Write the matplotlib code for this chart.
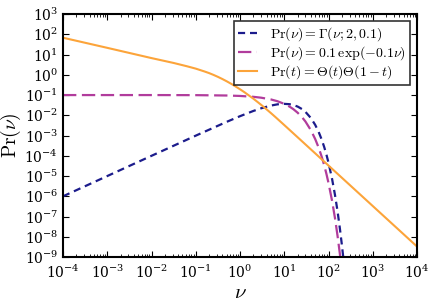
import numpy as np
import matplotlib
matplotlib.use('Agg')
import matplotlib.pyplot as plt

# values (log-log axes)
nu_gamma = [1e-4, 1e-3, 1e-2, 0.1, 0.5, 1, 2, 3, 5, 7, 10, 13, 16, 20, 25, 30, 40, 50,
            60, 70, 80, 90, 100, 120, 140, 160, 180, 200, 215]
pr_gamma = [1e-6, 1e-5, 1e-4, 9.9e-4, 4.76e-3, 9.05e-3, 1.64e-2, 2.22e-2, 3.03e-2, 3.48e-2,
            3.68e-2, 3.55e-2, 3.23e-2, 2.71e-2, 2.05e-2, 1.49e-2, 7.3e-3, 3.37e-3,
            1.49e-3, 6.4e-4, 2.68e-4, 1.11e-4, 4.5e-5, 7.4e-6, 1.16e-6, 1.8e-7, 2.7e-8,
            4.1e-9, 9.9e-10]

nu_exp = [1e-4, 1e-2, 0.1, 0.5, 1, 2, 3, 5, 7, 10, 13, 16, 20, 25, 30, 40, 50, 60, 70,
          80, 90, 100, 120, 140, 160, 180, 190]
pr_exp = [0.1, 0.1, 0.099, 0.0951, 0.0905, 0.0819, 0.0741, 0.0607, 0.0497, 0.0368,
          0.0273, 0.0202, 0.0135, 8.2e-3, 4.98e-3, 1.83e-3, 6.7e-4, 2.5e-4, 9.1e-5,
          3.4e-5, 1.23e-5, 4.5e-6, 6.1e-7, 8.3e-8, 1.1e-8, 1.5e-9, 5.6e-10]

nu_unif = [1e-4, 1e-3, 1e-2, 0.0316, 0.063, 0.1, 0.158, 0.2, 0.251, 0.316, 0.398, 0.501,
           0.631, 0.794, 1.0, 1.26, 1.58, 2.0, 2.51, 3.16, 3.98, 5.01, 6.31, 10, 21, 100,
           1000, 1e4]
pr_unif = [68, 21.5, 6.7, 3.85, 2.65, 2.02, 1.46, 1.216, 0.993, 0.794, 0.622, 0.478,
           0.36, 0.266, 0.193, 0.138, 0.0964, 0.0664, 0.045, 0.030, 0.0197, 0.0128,
           0.0082, 0.0033, 7.5e-4, 3.3e-5, 3.3e-7, 3.3e-9]

plt.rcParams['mathtext.fontset'] = 'cm'
plt.rcParams['font.family'] = 'serif'
plt.rcParams['font.serif'] = ['DejaVu Serif']
plt.rcParams['xtick.direction'] = 'in'
plt.rcParams['ytick.direction'] = 'in'
plt.rcParams['xtick.top'] = True
plt.rcParams['ytick.right'] = True
plt.rcParams['xtick.major.size'] = 4
plt.rcParams['ytick.major.size'] = 4
plt.rcParams['xtick.minor.size'] = 2
plt.rcParams['ytick.minor.size'] = 2
plt.rcParams['axes.linewidth'] = 1.5

fig = plt.figure(figsize=(4.36, 3.06), dpi=100)
ax = fig.add_axes([0.1445, 0.160, 0.812, 0.794])

ax.plot(nu_gamma, pr_gamma, color='#1c1c8c', lw=1.6, dashes=(3.2, 2.2),
        label=r'$\mathrm{Pr}(\nu) = \Gamma(\nu; 2, 0.1)$')
ax.plot(nu_exp, pr_exp, color='#b13c9c', lw=1.6, dashes=(6, 2.5),
        label=r'$\mathrm{Pr}(\nu) = 0.1\,\exp(-0.1\nu)$')
ax.plot(nu_unif, pr_unif, color='#fca43a', lw=1.5,
        label=r'$\mathrm{Pr}(t) = \Theta(t)\Theta(1-t)$')

ax.set_xscale('log')
ax.set_yscale('log')
ax.set_xlim(1e-4, 1e4)
ax.set_ylim(1e-9, 1e3)
ax.set_xticks([10.0 ** k for k in range(-4, 5)])
ax.set_yticks([10.0 ** k for k in range(-9, 4)])
ax.tick_params(labelsize=10)
ax.tick_params(axis='x', pad=5)
ax.set_xlabel(r'$\nu$', fontsize=15, labelpad=1)
ax.set_ylabel(r'$\mathrm{Pr}(\nu)$', fontsize=14, labelpad=1)

leg = ax.legend(loc='upper right', fontsize=10, fancybox=False, handlelength=1.4,
                handletextpad=0.9, labelspacing=0.1, borderpad=0.3,
                borderaxespad=0.5)
leg.get_frame().set_edgecolor('black')
leg.get_frame().set_linewidth(1.2)

fig.savefig('out.png', dpi=100)
